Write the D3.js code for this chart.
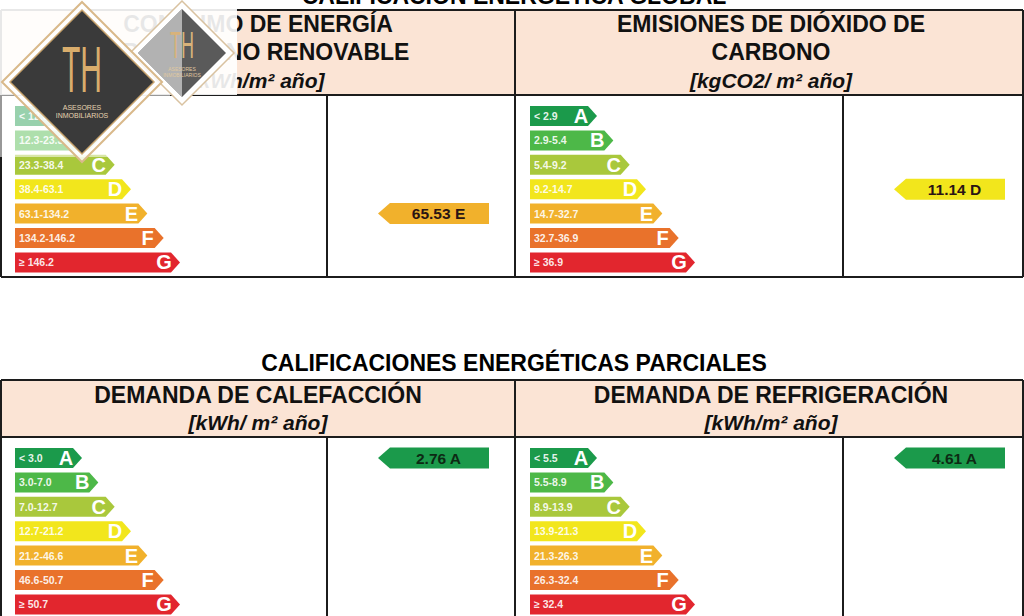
<!DOCTYPE html>
<html>
<head>
<meta charset="utf-8">
<script src="https://cdn.jsdelivr.net/npm/d3@7"></script>
<style>
  body { margin: 0; background: #fff; }
  svg { display: block; font-family: "Liberation Sans", Arial, sans-serif; }
</style>
</head>
<body>
<div id="chart"></div>
<script>
// classes and colours of the energy scale
var classes = ["A", "B", "C", "D", "E", "F", "G"];
var classColors = ["#1b9a4b", "#4db848", "#a9c83c", "#f2e61c", "#f1b12c", "#e9722b", "#e2262e"];

var consumoRanges = ["< 12.3", "12.3-23.3", "23.3-38.4", "38.4-63.1", "63.1-134.2", "134.2-146.2", "\u2265 146.2"];
var emisionesRanges = ["< 2.9", "2.9-5.4", "5.4-9.2", "9.2-14.7", "14.7-32.7", "32.7-36.9", "\u2265 36.9"];
var calefaccionRanges = ["< 3.0", "3.0-7.0", "7.0-12.7", "12.7-21.2", "21.2-46.6", "46.6-50.7", "\u2265 50.7"];
var refrigeracionRanges = ["< 5.5", "5.5-8.9", "8.9-13.9", "13.9-21.3", "21.3-26.3", "26.3-32.4", "\u2265 32.4"];

var panelTitles = [
    ["CONSUMO DE ENERGÍA", "PRIMARIA NO RENOVABLE"],
    ["EMISIONES DE DIÓXIDO DE", "CARBONO"],
    ["DEMANDA DE CALEFACCIÓN"],
    ["DEMANDA DE REFRIGERACIÓN"]
];
var panelUnits = ["[kWh/m² año]", "[kgCO2/ m² año]", "[kWh/ m² año]", "[kWh/m² año]"];
var panelValues = [65.53, 11.14, 2.76, 4.61];
var panelRatings = ["E", "D", "A", "A"];

var sectionTitles = ["CALIFICACIÓN ENERGÉTICA GLOBAL", "CALIFICACIONES ENERGÉTICAS PARCIALES"];

var width = 1024, height = 616;
var svg = d3.select("#chart").append("svg")
    .attr("width", width)
    .attr("height", height);

var colorScale = d3.scaleOrdinal().domain(classes).range(classColors);
var tipScale = d3.scaleLinear().domain([0, 6]).range([82, 180]);

var lineColor = "#1c1c1c";
var headerFill = "#fbe4d5";

// one block = section title + header row + scale rows
function drawSection(sec, titleY, tableTop, headerBottom, tableBottom, panels) {
    var g = svg.append("g");

    g.append("text")
        .attr("x", 514).attr("y", titleY)
        .attr("text-anchor", "middle")
        .style("font-size", "23px").style("font-weight", "bold")
        .text(sectionTitles[sec]);

    g.append("rect")
        .attr("x", 1).attr("y", tableTop)
        .attr("width", 1022).attr("height", headerBottom - tableTop)
        .attr("fill", headerFill);

    var rowScale = d3.scaleBand()
        .domain(classes)
        .range([headerBottom + 8.8, headerBottom + 8.8 + 7 * 24.4])
        .paddingInner(0.18)
        .paddingOuter(0.09);

    panels.forEach(function (p, k) {
        var px = k === 0 ? 0 : 515;
        var cx = k === 0 ? 258 : 771;
        var innerX = k === 0 ? 327 : 843;
        var pg = g.append("g");

        var titleLines = panelTitles[p];
        var lineYs = titleLines.length === 2 ? [tableTop + 22, tableTop + 50] : [tableTop + 23];
        titleLines.forEach(function (t, i) {
            pg.append("text")
                .attr("x", cx).attr("y", lineYs[i])
                .attr("text-anchor", "middle")
                .style("font-size", "23px").style("font-weight", "bold")
                .attr("fill", "#111")
                .text(t);
        });
        pg.append("text")
            .attr("x", cx).attr("y", headerBottom - 7)
            .attr("text-anchor", "middle")
            .style("font-size", "21px").style("font-weight", "bold").style("font-style", "italic")
            .attr("fill", "#111")
            .text(panelUnits[p]);

        var ranges = [consumoRanges, emisionesRanges, calefaccionRanges, refrigeracionRanges][p];

        var bars = pg.selectAll(".bar")
            .data(classes)
            .enter()
            .append("g");

        bars.append("path")
            .attr("d", function (c, i) {
                var y0 = rowScale(c), y1 = y0 + rowScale.bandwidth();
                var tip = px + tipScale(i);
                return "M" + (px + 15) + "," + y0 + "L" + (tip - 9) + "," + y0 +
                    "L" + tip + "," + (y0 + y1) / 2 + "L" + (tip - 9) + "," + y1 +
                    "L" + (px + 15) + "," + y1 + "Z";
            })
            .attr("fill", function (c) { return colorScale(c); });

        bars.append("text")
            .attr("x", px + 19)
            .attr("y", function (c) { return rowScale(c) + rowScale.bandwidth() / 2 + 4; })
            .style("font-size", "10.5px").style("font-weight", "bold")
            .attr("fill", "#fff").attr("fill-opacity", 0.9)
            .text(function (c, i) { return ranges[i]; });

        bars.append("text")
            .attr("x", function (c, i) { return px + tipScale(i) - 16; })
            .attr("y", function (c) { return rowScale(c) + rowScale.bandwidth() / 2 + 7; })
            .attr("text-anchor", "middle")
            .style("font-size", "20px").style("font-weight", "bold")
            .attr("fill", "#fff")
            .text(function (c) { return c; });

        // value arrow on the row of its rating
        var r = panelRatings[p];
        var ay0 = rowScale(r) - 0.5, ay1 = rowScale(r) + rowScale.bandwidth() + 0.5;
        var aTip = innerX + 51, aEnd = innerX + 162;
        pg.append("path")
            .attr("d", "M" + aTip + "," + (ay0 + ay1) / 2 + "L" + (aTip + 12) + "," + ay0 +
                "L" + aEnd + "," + ay0 + "L" + aEnd + "," + ay1 + "L" + (aTip + 12) + "," + ay1 + "Z")
            .attr("fill", colorScale(r));
        pg.append("text")
            .attr("x", (aTip + aEnd) / 2 + 5)
            .attr("y", (ay0 + ay1) / 2 + 5.5)
            .attr("text-anchor", "middle")
            .style("font-size", "15.5px").style("font-weight", "bold")
            .attr("fill", r === "A" ? "#0d2a14" : "#2a1414")
            .text(panelValues[p].toFixed(2) + " " + r);
    });

    // table lines
    var lines = [
        [1, tableTop, 1023, tableTop],
        [1, headerBottom, 1023, headerBottom],
        [1, tableTop, 1, tableBottom],
        [515, tableTop, 515, tableBottom],
        [1023, tableTop, 1023, tableBottom],
        [327, headerBottom, 327, tableBottom],
        [843, headerBottom, 843, tableBottom]
    ];
    if (tableBottom < height) lines.push([1, tableBottom, 1023, tableBottom]);
    g.selectAll(".tline")
        .data(lines)
        .enter()
        .append("line")
        .attr("x1", function (d) { return d[0]; })
        .attr("y1", function (d) { return d[1]; })
        .attr("x2", function (d) { return d[2]; })
        .attr("y2", function (d) { return d[3]; })
        .attr("stroke", lineColor)
        .attr("stroke-width", 2);
}

drawSection(0, 4, 10, 95, 277, [0, 1]);
drawSection(1, 371, 380, 437, 640, [2, 3]);

// watermark logo over the top-left corner
var logo = svg.append("g");
logo.append("rect")
    .attr("x", 0).attr("y", 0).attr("width", 237).attr("height", 95)
    .attr("fill", "#fff").attr("fill-opacity", 0.9);
logo.append("rect")
    .attr("x", 0).attr("y", 95).attr("width", 170).attr("height", 62)
    .attr("fill", "#fff").attr("fill-opacity", 0.55);

function diamond(cx, cy, r) {
    return "M" + cx + "," + (cy - r) + "L" + (cx + r) + "," + cy + "L" + cx + "," + (cy + r) + "L" + (cx - r) + "," + cy + "Z";
}
logo.append("path").attr("d", diamond(182, 53, 52)).attr("fill", "#fff").attr("stroke", "#d9c2a0").attr("stroke-width", 1.5);
logo.append("path").attr("d", diamond(182, 53, 44)).attr("fill", "#5a5a5a");
logo.append("path").attr("d", "M138,53L182,9L182,97Z").attr("fill", "#c8c8c8").attr("fill-opacity", 0.8);
logo.append("text").attr("x", 182).attr("y", 58).attr("text-anchor", "middle")
    .style("font-size", "30px").attr("fill", "#d8b27a")
    .attr("transform", "translate(182,58) scale(0.6,1.25) translate(-182,-58)")
    .text("TH");
logo.append("text").attr("x", 182).attr("y", 71).attr("text-anchor", "middle")
    .style("font-size", "5px").attr("fill", "#e0c9a0").text("ASESORES");
logo.append("text").attr("x", 182).attr("y", 77).attr("text-anchor", "middle")
    .style("font-size", "5px").attr("fill", "#e0c9a0").text("INMOBILIARIOS");

logo.append("path").attr("d", diamond(82, 82, 80)).attr("fill", "#fff").attr("fill-opacity", 0.85).attr("stroke", "#d9b98a").attr("stroke-width", 2);
logo.append("path").attr("d", diamond(82, 82, 72)).attr("fill", "#3a3a3a").attr("stroke", "#c9a46e").attr("stroke-width", 1.5);
logo.append("text").attr("x", 82).attr("y", 92).attr("text-anchor", "middle")
    .style("font-size", "50px").attr("fill", "#d9ad6c")
    .attr("transform", "translate(82,92) scale(0.6,1.3) translate(-82,-92)")
    .text("TH");
logo.append("text").attr("x", 82).attr("y", 110).attr("text-anchor", "middle")
    .style("font-size", "7px").attr("fill", "#e6d3b0").text("ASESORES");
logo.append("text").attr("x", 82).attr("y", 118).attr("text-anchor", "middle")
    .style("font-size", "7px").attr("fill", "#e6d3b0").text("INMOBILIARIOS");
</script>
</body>
</html>
